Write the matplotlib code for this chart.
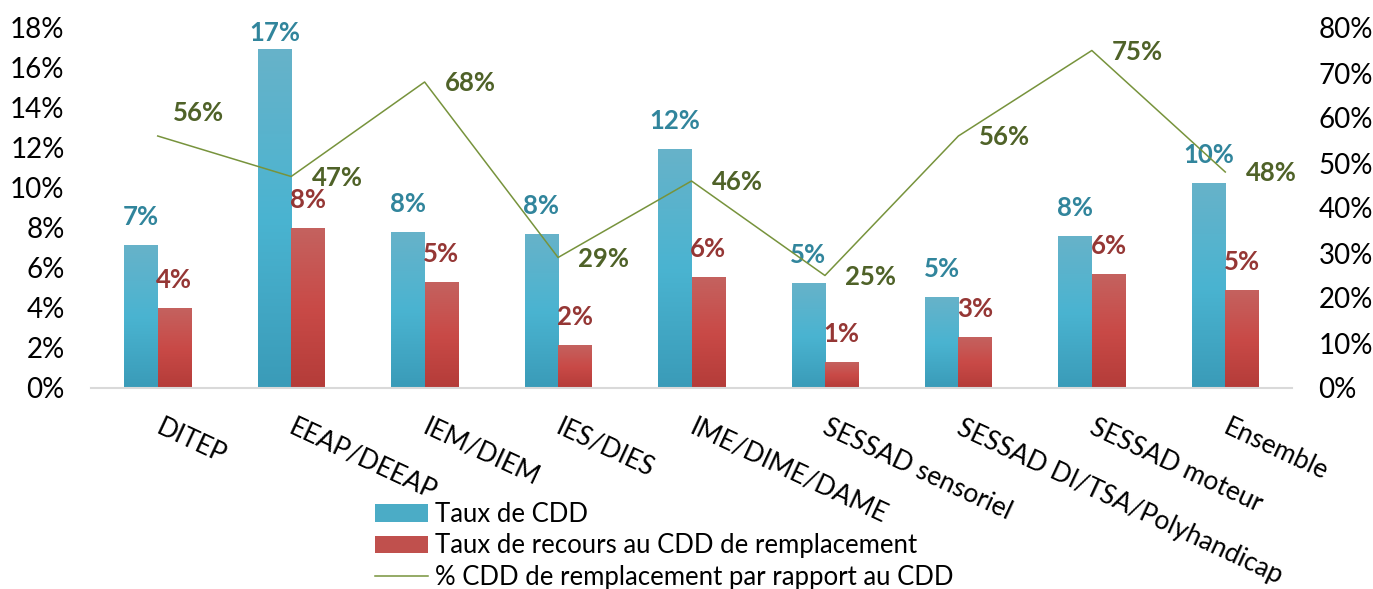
import matplotlib
matplotlib.use("Agg")
import matplotlib.pyplot as plt
import numpy as np
from matplotlib.colors import LinearSegmentedColormap
from matplotlib.ticker import PercentFormatter, FixedLocator
from matplotlib.transforms import ScaledTranslation
from matplotlib.patches import Patch
from matplotlib.lines import Line2D

plt.rcParams['font.family'] = ['Lato', 'DejaVu Sans']

categories = ["DITEP", "EEAP/DEEAP", "IEM/DIEM", "IES/DIES", "IME/DIME/DAME",
              "SESSAD sensoriel", "SESSAD DI/TSA/Polyhandicap", "SESSAD moteur", "Ensemble"]
taux_cdd = [0.0715, 0.1695, 0.078, 0.077, 0.1195, 0.0525, 0.0455, 0.076, 0.1025]
taux_remplacement = [0.040, 0.080, 0.053, 0.0215, 0.0555, 0.013, 0.0255, 0.057, 0.049]
pct_remplacement = [0.56, 0.47, 0.68, 0.29, 0.46, 0.25, 0.56, 0.75, 0.48]

series_names = ["Taux de CDD", "Taux de recours au CDD de remplacement",
                "% CDD de remplacement par rapport au CDD"]

BLUE = "#4BACC6"
RED = "#C0504D"
GREEN = "#77933C"
BLUE_TXT = "#31859C"
RED_TXT = "#953735"
GREEN_TXT = "#4F6228"

blue_cmap = LinearSegmentedColormap.from_list("b", ["#3A9BB8", "#4AB4D1", "#67B2C9"])
red_cmap = LinearSegmentedColormap.from_list("r", ["#B43C39", "#C94A47", "#C4625F"])

fig = plt.figure(figsize=(13.73, 5.89), dpi=100)
ax = fig.add_axes([91/1373, 1-388/589, (1292-91)/1373, 360/589])
ax2 = ax.twinx()

x = np.arange(len(categories))
w = 0.25
grad = np.linspace(0, 1, 256).reshape(-1, 1)

def gradient_bars(xs, vals, cmap):
    bars = ax.bar(xs, vals, width=w, color="none", edgecolor="none", zorder=2)
    for b in bars:
        x0 = b.get_x()
        h = b.get_height()
        im = ax.imshow(grad, extent=[x0, x0 + w, 0, h], origin="lower",
                       aspect="auto", cmap=cmap, zorder=2)
        im.set_clip_path(b)
    return bars

gradient_bars(x - w/2, taux_cdd, blue_cmap)
gradient_bars(x + w/2, taux_remplacement, red_cmap)

ax.set_xlim(-0.5, len(categories) - 0.5)
ax.set_ylim(0, 0.18)
ax.yaxis.set_major_locator(FixedLocator(np.arange(0, 0.181, 0.02)))
ax.yaxis.set_major_formatter(PercentFormatter(1.0, decimals=0))
ax2.set_ylim(0, 0.80)
ax2.yaxis.set_major_locator(FixedLocator(np.arange(0, 0.801, 0.10)))
ax2.yaxis.set_major_formatter(PercentFormatter(1.0, decimals=0))

for a in (ax, ax2):
    for s in a.spines.values():
        s.set_visible(False)
    a.tick_params(length=0)
ax.spines['bottom'].set_visible(True)
ax.spines['bottom'].set_color("#D9D9D9")
ax.spines['bottom'].set_linewidth(1.5)

ax.tick_params(axis='y', labelsize=20, pad=19)
ax2.tick_params(axis='y', labelsize=20, pad=19)

ax.set_xticks(x)
ax.set_xticklabels(categories, rotation=-25, ha='left', va='top',
                   rotation_mode='anchor', fontsize=19)
off = ScaledTranslation(5/100, -22/100, fig.dpi_scale_trans)
for lab in ax.get_xticklabels():
    lab.set_transform(lab.get_transform() + off)

# data labels
for i, v in enumerate(taux_cdd):
    ax.text(x[i] - w/2, min(v + 0.014, 0.1775), f"{v*100:.0f}%", ha='center', va='center',
            fontsize=18.5, fontweight='bold', color=BLUE_TXT, zorder=3)
for i, v in enumerate(taux_remplacement):
    ax.text(x[i] + w/2, v + 0.014, f"{v*100:.0f}%", ha='center', va='center',
            fontsize=18.5, fontweight='bold', color=RED_TXT, zorder=3)

ax2.plot(x, pct_remplacement, color=GREEN, linewidth=1.1, zorder=4)
for i, v in enumerate(pct_remplacement):
    dx, dy = (29.5, 16.5) if i == 0 else (33, -1)
    ax2.annotate(f"{v*100:.0f}%", (x[i], v), xytext=(dx, dy), textcoords='offset points',
                 ha='center', va='center', fontsize=18.5, fontweight='bold', color=GREEN_TXT)

handles = [Patch(facecolor=BLUE, edgecolor='none'),
           Patch(facecolor=RED, edgecolor='none'),
           Line2D([0], [0], color=GREEN, linewidth=1.1)]
fig.legend(handles, series_names, loc='upper left', bbox_to_anchor=(375/1373, 1-502/589),
           frameon=False, fontsize=18.5, handlelength=2.06, handleheight=0.66,
           handletextpad=0.27, labelspacing=0.25, borderaxespad=0, borderpad=0)

fig.savefig("out.png", dpi=100)
